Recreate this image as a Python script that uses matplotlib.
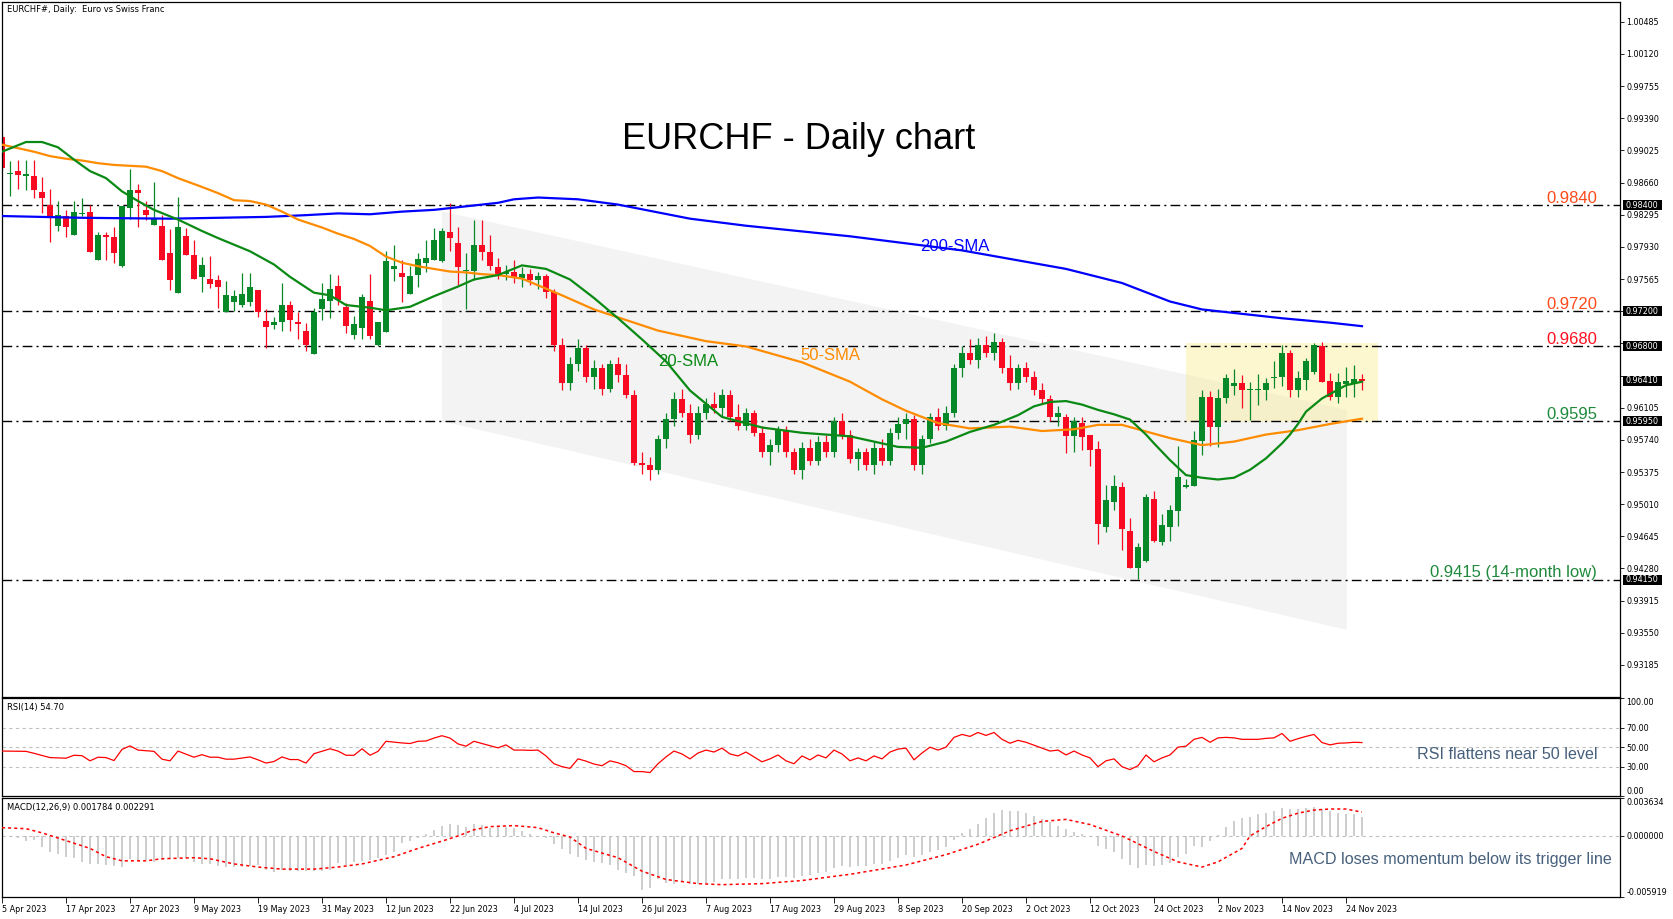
import matplotlib
matplotlib.use("Agg")
import matplotlib.pyplot as plt
from matplotlib.patches import Rectangle, Polygon

# ---------------- data ----------------
opens = [0.9918,0.9876,0.9879,0.9873,0.9873,0.9855,0.9840,0.9817,0.9828,0.9806,
         0.9830,0.9833,0.9778,0.9807,0.9804,0.9771,0.9837,0.9857,0.9835,0.9818,
         0.9817,0.9786,0.9741,0.9805,0.9784,0.9759,0.9756,0.9755,0.9719,0.9730,
         0.9727,0.9730,0.9744,0.9709,0.9704,0.9708,0.9727,0.9708,0.9698,0.9671,
         0.9722,0.9732,0.9749,0.9725,0.9693,0.9701,0.9732,0.9682,0.9696,0.9768,
         0.9763,0.9739,0.9761,0.9775,0.9778,0.9777,0.9810,0.9797,0.9766,0.9766,
         0.9795,0.9787,0.9770,0.9762,0.9765,0.9758,0.9762,0.9755,0.9760,0.9742,
         0.9682,0.9638,0.9660,0.9678,0.9645,0.9655,0.9632,0.9660,0.9648,0.9625,
         0.9548,0.9545,0.9540,0.9575,0.9598,0.9620,0.9605,0.9580,0.9605,0.9615,
         0.9610,0.9625,0.9600,0.9590,0.9605,0.9582,0.9560,0.9568,0.9585,0.9560,
         0.9540,0.9565,0.9550,0.9572,0.9560,0.9595,0.9580,0.9552,0.9560,0.9545,
         0.9565,0.9550,0.9582,0.9592,0.9598,0.9545,0.9575,0.9600,0.9590,0.9605,
         0.9655,0.9672,0.9665,0.9682,0.9672,0.9685,0.9655,0.9638,0.9655,0.9645,
         0.9630,0.9620,0.9600,0.9600,0.9578,0.9593,0.9579,0.9564,0.9475,0.9504,
         0.9520,0.9471,0.9428,0.9436,0.9507,0.9458,0.9475,0.9493,0.9521,0.9522,
         0.9573,0.9623,0.9589,0.9621,0.9635,0.9638,0.9630,0.9630,0.9630,0.9644,
         0.9645,0.9672,0.9630,0.9642,0.9651,0.9681,0.9641,0.9623,0.9637,0.9639,
         0.9643]
highs = [0.9921,0.9891,0.9892,0.9892,0.9892,0.9872,0.9859,0.9845,0.9835,0.9845,
         0.9848,0.9840,0.9810,0.9810,0.9815,0.9839,0.9881,0.9864,0.9845,0.9867,
         0.9829,0.9813,0.9850,0.9814,0.9801,0.9782,0.9783,0.9761,0.9754,0.9744,
         0.9763,0.9763,0.9744,0.9723,0.9713,0.9752,0.9732,0.9719,0.9707,0.9724,
         0.9752,0.9762,0.9761,0.9729,0.9715,0.9740,0.9762,0.9708,0.9788,0.9795,
         0.9778,0.9771,0.9786,0.9801,0.9814,0.9814,0.9843,0.9815,0.9786,0.9823,
         0.9824,0.9807,0.9780,0.9772,0.9778,0.9770,0.9768,0.9765,0.9762,0.9745,
         0.9690,0.9668,0.9688,0.9682,0.9665,0.9660,0.9665,0.9668,0.9660,0.9630,
         0.9560,0.9555,0.9580,0.9605,0.9628,0.9632,0.9615,0.9612,0.9622,0.9628,
         0.9632,0.9630,0.9615,0.9610,0.9608,0.9590,0.9575,0.9590,0.9590,0.9565,
         0.9572,0.9575,0.9578,0.9580,0.9600,0.9605,0.9585,0.9565,0.9565,0.9572,
         0.9575,0.9588,0.9600,0.9605,0.9602,0.9580,0.9605,0.9610,0.9612,0.9660,
         0.9680,0.9688,0.9690,0.9692,0.9695,0.9690,0.9670,0.9660,0.9662,0.9652,
         0.9638,0.9625,0.9612,0.9603,0.9600,0.9600,0.9580,0.9573,0.9523,0.9534,
         0.9526,0.9485,0.9457,0.9513,0.9516,0.9490,0.9500,0.9567,0.9529,0.9584,
         0.9630,0.9629,0.9632,0.9649,0.9654,0.9648,0.9640,0.9649,0.9644,0.9663,
         0.9682,0.9676,0.9652,0.9667,0.9684,0.9685,0.9650,0.9650,0.9657,0.9659,
         0.9649]
lows = [0.9880,0.9851,0.9859,0.9858,0.9849,0.9832,0.9799,0.9811,0.9804,0.9806,
        0.9828,0.9787,0.9778,0.9778,0.9775,0.9770,0.9825,0.9815,0.9824,0.9818,
        0.9778,0.9744,0.9741,0.9784,0.9756,0.9742,0.9746,0.9724,0.9719,0.9720,
        0.9725,0.9726,0.9713,0.9678,0.9700,0.9698,0.9698,0.9688,0.9675,0.9671,
        0.9710,0.9712,0.9727,0.9695,0.9688,0.9689,0.9689,0.9680,0.9696,0.9754,
        0.9730,0.9739,0.9748,0.9764,0.9778,0.9776,0.9788,0.9750,0.9723,0.9755,
        0.9778,0.9767,0.9756,0.9755,0.9752,0.9748,0.9750,0.9745,0.9735,0.9675,
        0.9630,0.9630,0.9652,0.9640,0.9632,0.9625,0.9628,0.9640,0.9622,0.9545,
        0.9535,0.9528,0.9535,0.9565,0.9590,0.9600,0.9570,0.9575,0.9598,0.9605,
        0.9600,0.9595,0.9585,0.9585,0.9578,0.9555,0.9545,0.9560,0.9555,0.9535,
        0.9530,0.9545,0.9545,0.9555,0.9555,0.9575,0.9548,0.9540,0.9540,0.9535,
        0.9545,0.9545,0.9575,0.9575,0.9540,0.9535,0.9570,0.9585,0.9585,0.9600,
        0.9645,0.9660,0.9655,0.9668,0.9665,0.9650,0.9630,0.9632,0.9640,0.9625,
        0.9615,0.9595,0.9590,0.9559,0.9560,0.9563,0.9544,0.9456,0.9469,0.9494,
        0.9449,0.9428,0.9416,0.9435,0.9458,0.9455,0.9459,0.9476,0.9519,0.9522,
        0.9557,0.9567,0.9566,0.9616,0.9625,0.9610,0.9597,0.9613,0.9619,0.9633,
        0.9635,0.9623,0.9623,0.9631,0.9649,0.9640,0.9619,0.9616,0.9623,0.9623,
        0.9630]
closes = [0.9883,0.9877,0.9875,0.9876,0.9857,0.9849,0.9827,0.9829,0.9816,0.9833,
          0.9831,0.9787,0.9806,0.9804,0.9786,0.9839,0.9858,0.9854,0.9829,0.9825,
          0.9778,0.9755,0.9815,0.9784,0.9756,0.9772,0.9751,0.9748,0.9738,0.9737,
          0.9739,0.9747,0.9719,0.9702,0.9708,0.9727,0.9710,0.9706,0.9682,0.9719,
          0.9734,0.9745,0.9733,0.9703,0.9705,0.9736,0.9692,0.9708,0.9777,0.9771,
          0.9759,0.9760,0.9779,0.9780,0.9801,0.9811,0.9803,0.9770,0.9767,0.9795,
          0.9787,0.9771,0.9762,0.9765,0.9758,0.9762,0.9755,0.9760,0.9742,0.9682,
          0.9638,0.9660,0.9678,0.9645,0.9655,0.9632,0.9660,0.9648,0.9625,0.9548,
          0.9545,0.9540,0.9575,0.9598,0.9620,0.9605,0.9580,0.9605,0.9615,0.9610,
          0.9625,0.9600,0.9590,0.9605,0.9582,0.9560,0.9568,0.9585,0.9560,0.9540,
          0.9565,0.9550,0.9572,0.9560,0.9595,0.9580,0.9552,0.9560,0.9545,0.9565,
          0.9550,0.9582,0.9592,0.9598,0.9545,0.9575,0.9600,0.9590,0.9605,0.9655,
          0.9672,0.9665,0.9682,0.9672,0.9685,0.9655,0.9638,0.9655,0.9645,0.9630,
          0.9620,0.9600,0.9605,0.9578,0.9595,0.9577,0.9563,0.9478,0.9506,0.9522,
          0.9473,0.9429,0.9452,0.9509,0.9459,0.9477,0.9494,0.9532,0.9522,0.9574,
          0.9623,0.9589,0.9621,0.9644,0.9639,0.9630,0.9631,0.9631,0.9639,0.9645,
          0.9672,0.9630,0.9644,0.9663,0.9682,0.9640,0.9623,0.9640,0.9641,0.9643,
          0.9641]

sma20_idx = [0,3,5,7,9,11,13,15,17,19,22,25,27,31,34,36,39,41,43,46,48,51,54,57,59,62,
             65,68,71,74,77,80,83,86,90,95,100,106,112,115,118,121,124,127,129,131,133,
             135,137,139,141,143,144,146,148,150,152,154,156,158,160,161,162,163,165,167,168,170]
sma20_val = [0.9901,0.9912,0.9912,0.9906,0.9892,0.9879,0.9871,0.9856,0.9845,0.9835,0.9824,0.9811,
             0.9803,0.9788,0.9773,0.9759,0.9741,0.9738,0.9727,0.9724,0.9721,0.9725,0.9737,0.9748,
             0.9756,0.9761,0.9772,0.9768,0.9756,0.9735,0.9712,0.9688,0.9663,0.9630,0.9600,0.9588,
             0.9582,0.9578,0.9566,0.9565,0.9572,0.9583,0.9591,0.9602,0.9612,0.9617,0.9618,0.9614,
             0.9608,0.9603,0.9597,0.9580,0.9570,0.9551,0.9534,0.9531,0.9529,0.9531,0.9540,0.9553,
             0.9570,0.9580,0.9592,0.9606,0.9621,0.9631,0.9636,0.9640]
sma50_idx = [0,2,4,6,8,10,12,14,16,18,20,22,25,27,29,31,33,35,37,40,42,44,46,48,50,52,54,56,58,60,62,
             65,70,74,78,82,88,93,100,106,110,113,117,121,126,130,134,137,140,142,146,148,150,154,
             158,162,166,170]
sma50_val = [0.9909,0.9905,0.9901,0.9896,0.9893,0.9891,0.9888,0.9886,0.9885,0.9884,0.9879,0.9871,
             0.9861,0.9854,0.9846,0.9845,0.9841,0.9833,0.9824,0.9815,0.9808,0.9802,0.9794,0.9782,
             0.9775,0.9771,0.9768,0.9765,0.9764,0.9762,0.9761,0.9757,0.9738,0.9722,0.9710,0.9698,
             0.9686,0.9680,0.9662,0.9640,0.9620,0.9607,0.9593,0.9587,0.9589,0.9584,0.9586,0.9591,
             0.9591,0.9586,0.9576,0.9572,0.9568,0.9572,0.9580,0.9585,0.9592,0.9598]
sma200_idx = [0,10,21,33,38,42,46,50,54,58,62,64,67,72,77,86,93,106,120,133,140,146,150,153,160,166,170]
sma200_val = [0.9828,0.9826,0.9825,0.9827,0.9829,0.9831,0.9830,0.9833,0.9835,0.9839,0.9843,0.9847,
              0.9849,0.9847,0.9841,0.9825,0.9817,0.9805,0.9789,0.9768,0.9752,0.9731,0.9722,0.9719,
              0.9712,0.9707,0.9703]

rsi_idx = [0,3,4,6,8,9,10,11,12,13,14,15,16,17,19,20,21,22,24,25,26,27,28,29,31,32,33,34,35,36,37,38,
           39,41,42,43,44,45,46,47,48,50,51,52,53,54,55,56,57,58,59,60,62,63,64,65,66,67,68,69,70,71,
           72,73,74,75,76,77,78,79,80,81,82,83,84,85,86,87,88,89,90,91,92,93,94,95,96,97,98,99,100,
           101,102,103,104,105,106,107,108,109,110,111,112,113,114,115,116,117,118,119,120,121,122,
           123,124,125,126,127,128,129,130,131,132,133,134,135,136,137,138,139,140,141,142,143,144,
           145,146,147,148,149,150,151,152,153,154,155,156,157,158,159,160,161,162,163,164,165,166,
           167,168,169,170]
rsi_val = [46,45.7,43.7,39.3,38.7,41.7,41.3,36,39.7,39.3,36.3,47.7,51.3,47,45.7,37.7,36,46,39.7,42.3,
           39.7,39.7,37.7,37.7,40,37,33.7,35.3,40,37.3,37.3,33.7,43.3,48.3,46,41.7,41.7,48.3,41.7,45.7,
           56,54.3,53.7,56,56.3,59.3,61.7,59.3,53.3,51,56,53.7,49.3,52.3,47,47,46.7,47,41,33,30,28.3,
           38,35.7,32.7,31,36,34,31,25,25,24,33,40,46,43,38,44,47,45,49,43,41,45,40,35,38,42,36,33,41,
           37,42,39,47,43,36,39,36,41,38,45,48,49,37,44,50,47,50,60,63,61,65,62,65,58,54,57,55,52,49,
           46,47,42,46,42,39,30,36,38,30,27,31,42,35,39,42,50,51,58,60,55,59.5,60,59.5,58,58,58,59,
           59.5,64,56,58.7,61,63,54.7,52.3,54,54.3,55,54.7]

macd_hist = [0.0001,-0.0001,-0.0002,-0.0005,-0.0004,-0.0011,-0.0015,-0.0017,-0.0020,-0.0021,
             -0.0025,-0.0027,-0.0027,-0.0028,-0.0029,-0.0030,-0.0022,-0.0023,-0.0023,-0.0025,
             -0.0023,-0.0022,-0.0021,-0.0021,-0.0025,-0.0027,-0.0027,-0.0029,-0.0030,-0.0030,
             -0.0030,-0.0029,-0.0028,-0.0033,-0.0035,-0.0033,-0.0034,-0.0034,-0.0034,-0.0034,
             -0.0034,-0.0033,-0.0026,-0.0028,-0.0025,-0.0024,-0.0023,-0.0021,-0.0018,-0.0015,
             -0.0007,-0.0005,-0.0002,0.0002,0.0006,0.0010,0.0012,0.0011,0.0009,0.0012,
             0.0011,0.0008,0.0010,0.0009,0.0008,0.0005,0.0002,0.0000,-0.0002,-0.0008,
             -0.0013,-0.0017,-0.0020,-0.0023,-0.0025,-0.0026,-0.0028,-0.0033,-0.0036,-0.0039,
             -0.0052,-0.0050,-0.0042,-0.0045,-0.0046,-0.0044,-0.0046,-0.0046,-0.0045,-0.0044,
             -0.0042,-0.0042,-0.0042,-0.0041,-0.0041,-0.0042,-0.0042,-0.0040,-0.0040,-0.0041,
             -0.0039,-0.0038,-0.0036,-0.0035,-0.0031,-0.0029,-0.0030,-0.0029,-0.0029,-0.0027,
             -0.0027,-0.0024,-0.0021,-0.0018,-0.0020,-0.0018,-0.0015,-0.0014,-0.0011,-0.0004,
             0.0003,0.0007,0.0012,0.0017,0.0022,0.0025,0.0024,0.0024,0.0022,0.0019,
             0.0016,0.0013,0.0010,0.0007,0.0004,0.0002,-0.0001,-0.0010,-0.0013,-0.0015,
             -0.0022,-0.0028,-0.0031,-0.0028,-0.0029,-0.0028,-0.0026,-0.0020,-0.0017,-0.0010,
             -0.0011,-0.0005,0.0001,0.0009,0.0014,0.0017,0.0018,0.0021,0.0022,0.0024,
             0.0027,0.0026,0.0026,0.0027,0.0028,0.0026,0.0024,0.0022,0.0021,0.0021,
             0.0018]
signal_idx = [0,3,5,7,11,13,15,18,20,24,26,29,32,35,39,42,45,49,52,55,57,59,61,64,67,69,71,73,77,80,
              83,87,90,95,100,106,113,118,122,126,130,133,136,140,144,147,150,152,155,156,158,160,
              162,164,166,168,170]
signal_val = [0.0008,0.0007,0.0003,-0.0002,-0.0012,-0.0020,-0.0024,-0.0024,-0.0022,-0.0021,-0.0022,
              -0.0027,-0.0030,-0.0032,-0.0032,-0.0030,-0.0027,-0.0020,-0.0012,-0.0005,0.0000,0.0006,
              0.0009,0.0010,0.0008,0.0003,-0.0001,-0.0012,-0.0021,-0.0034,-0.0042,-0.0046,-0.0047,
              -0.0046,-0.0043,-0.0037,-0.0028,-0.0018,-0.0008,0.0005,0.0014,0.0016,0.0011,0.0000,
              -0.0015,-0.0025,-0.0030,-0.0025,-0.0012,0.0000,0.0009,0.0017,0.0022,0.0025,0.0026,
              0.0026,0.0023]

levels = [0.9840, 0.9720, 0.9680, 0.9595, 0.9415]
level_labels = ["0.9840", "0.9720", "0.9680", "0.9595", "0.9415 (14-month low)"]
level_colors = ["#ff4a1c", "#ff4a1c", "#ff1020", "#1f8a3c", "#1f8a3c"]
price_boxes = [0.98400, 0.97200, 0.96800, 0.96410, 0.95950, 0.94150]
price_ticks = [1.00485, 1.00120, 0.99755, 0.99390, 0.99025, 0.98660, 0.98295, 0.97930, 0.97565,
               0.97200, 0.96835, 0.96470, 0.96105, 0.95740, 0.95375, 0.95010, 0.94645, 0.94280,
               0.93915, 0.93550, 0.93185]
price_tick_labels = ["1.00485", "1.00120", "0.99755", "0.99390", "0.99025", "0.98660", "0.98295",
                     "0.97930", "0.97565", "", "", "", "0.96105", "0.95740", "0.95375", "0.95010",
                     "0.94645", "0.94280", "0.93915", "0.93550", "0.93185"]
date_idx = [0, 8, 16, 24, 32, 40, 48, 56, 64, 72, 80, 88, 96, 104, 112, 120, 128, 136, 144, 152, 160, 168]
date_labels = ["5 Apr 2023", "17 Apr 2023", "27 Apr 2023", "9 May 2023", "19 May 2023", "31 May 2023",
               "12 Jun 2023", "22 Jun 2023", "4 Jul 2023", "14 Jul 2023", "26 Jul 2023", "7 Aug 2023",
               "17 Aug 2023", "29 Aug 2023", "8 Sep 2023", "20 Sep 2023", "2 Oct 2023", "12 Oct 2023",
               "24 Oct 2023", "2 Nov 2023", "14 Nov 2023", "24 Nov 2023"]
channel_x = [55.0, 168.1]
channel_top = [0.98332, 0.96081]
channel_bottom = [0.95951, 0.93584]
range_box_x = [148.0, 172.0]
range_box_y = [0.95937, 0.96838]

# ---------------- layout ----------------
W, H = 1673, 919
fig = plt.figure(figsize=(W / 100, H / 100), dpi=100)
fig.patch.set_facecolor("white")


def fr(x0, y0, x1, y1):
    return [x0 / W, 1 - y1 / H, (x1 - x0) / W, (y1 - y0) / H]


ax = fig.add_axes(fr(2, 2, 1620, 696.7))
axr = fig.add_axes(fr(2, 698.3, 1620, 796))
axm = fig.add_axes(fr(2, 798.3, 1620, 897.3))

XMAX = 202.25
AXFONT = "DejaVu Sans"
LBL = "Liberation Sans"
for a in (ax, axr, axm):
    a.set_xlim(0, XMAX)
    for s in a.spines.values():
        s.set_color("black")
        s.set_linewidth(0.9)
    a.yaxis.tick_right()
    a.tick_params(axis="y", direction="out", length=3, width=0.6, labelsize=5.8, pad=1.5)
    a.set_facecolor("white")

ax.set_ylim(0.92825, 1.00709)
ax.set_xticks([])
axr.set_xticks([])

# channel and range box
ax.add_patch(Polygon([(channel_x[0], channel_top[0]), (channel_x[1], channel_top[1]),
                      (channel_x[1], channel_bottom[1]), (channel_x[0], channel_bottom[0])],
                     closed=True, facecolor="#f3f3f3", edgecolor="none", zorder=0.5))
ax.add_patch(Rectangle((range_box_x[0], range_box_y[0]), range_box_x[1] - range_box_x[0],
                       range_box_y[1] - range_box_y[0], facecolor=(0.98, 0.93, 0.54), alpha=0.4,
                       edgecolor="none", zorder=0.6))

# horizontal levels
for lv in levels:
    ax.axhline(lv, color="black", lw=1.0, ls=(0, (7, 3, 1.5, 3)), zorder=1)

# candles
for i in range(len(opens)):
    o, h, l, c = opens[i], highs[i], lows[i], closes[i]
    col = "#07892a" if c >= o else "#f80b22"
    ax.vlines(i, l, h, color=col, lw=0.9, zorder=2)
    bottom = min(o, c)
    height = max(abs(c - o), 0.00012)
    ax.bar(i, height, bottom=bottom, width=0.68, color=col, edgecolor="none", zorder=2.1)

# moving averages
ax.plot(sma200_idx, sma200_val, color="#0000ff", lw=1.6, zorder=3)
ax.plot(sma50_idx, sma50_val, color="#ff8c00", lw=1.6, zorder=3)
ax.plot(sma20_idx, sma20_val, color="#0a8a14", lw=1.6, zorder=3.1)

ax.set_yticks(price_ticks)
ax.set_yticklabels(price_tick_labels, fontfamily=AXFONT)

# texts in main panel
ax.text(797 / 1618 * XMAX, 0.984 + (205.2 - 139) / 8803, "EURCHF - Daily chart",
        fontsize=26, family=LBL, ha="center", va="center", color="black")
ax.text((955 - 2) / 8, 0.984 - (246.5 - 205.2) / 8803, "200-SMA", fontsize=12, family=LBL,
        color="#0000ff", ha="center", va="center", zorder=5)
ax.text((830 - 2) / 8, 0.984 - (355.4 - 205.2) / 8803, "50-SMA", fontsize=12, family=LBL,
        color="#ff8c00", ha="center", va="center", zorder=5)
ax.text((688 - 2) / 8, 0.984 - (360.7 - 205.2) / 8803, "20-SMA", fontsize=12, family=LBL,
        color="#0a8a14", ha="center", va="center", zorder=5)
for lv, lab, col in zip(levels, level_labels, level_colors):
    ax.text((1597 - 2) / 8, lv + 2.5 / 8803, lab, fontsize=12, family=LBL, color=col,
            ha="right", va="baseline", zorder=5)

fig.text(7 / W, 1 - 9 / H, "EURCHF#, Daily:  Euro vs Swiss Franc", fontsize=6, family=AXFONT,
         ha="left", va="center")

# price boxes on the right axis
fig.canvas.draw()
inv = fig.transFigure.inverted()
for pb in price_boxes:
    yy = inv.transform(ax.transData.transform((0, pb)))[1]
    fig.add_artist(Rectangle((1622.5 / W, yy - 5 / H), 39.5 / W, 10 / H, facecolor="black",
                             edgecolor="none", transform=fig.transFigure, zorder=5))
    fig.text(1625 / W, yy, "%.5f" % pb, color="white", fontsize=5.8, family=AXFONT,
             ha="left", va="center", zorder=6)

# RSI panel
axr.set_ylim(0, 100)
for lv in (70, 50, 30):
    axr.axhline(lv, color="#c0c0c0", lw=0.8, ls=(0, (3, 3)), zorder=1)
axr.plot(rsi_idx, rsi_val, color="#ff0000", lw=0.9, zorder=3)
axr.set_yticks([100, 70, 50, 30, 0])
axr.set_yticklabels(["100.00", "70.00", "50.00", "30.00", "0.00"], fontfamily=AXFONT)
tl = axr.get_yticklabels()
tl[0].set_va("top")
tl[-1].set_va("bottom")
axr.text(5 / 8, 91, "RSI(14) 54.70", fontsize=6, family=AXFONT, ha="left", va="center")
axr.text((1598 - 2) / 8, 42.2, "RSI flattens near 50 level", fontsize=11.6, family=LBL,
         color="#46607c", ha="right", va="center")

# MACD panel
axm.set_ylim(-0.005919, 0.003634)
axm.axhline(0, color="#c0c0c0", lw=0.8, ls=(0, (3, 3)), zorder=1)
axm.vlines(range(len(macd_hist)), 0, macd_hist, color="#c0c0c0", lw=1.1, zorder=2)
axm.plot(signal_idx, signal_val, color="#ff0000", lw=1.1, ls=(0, (2, 2)), zorder=3)
axm.set_yticks([0.003634, 0.0, -0.005919])
axm.set_yticklabels(["0.003634", "0.000000", "-0.005919"], fontfamily=AXFONT)
tl = axm.get_yticklabels()
tl[0].set_va("top")
tl[-1].set_va("bottom")
axm.text(5 / 8, 0.003634 - 9 / 10300, "MACD(12,26,9) 0.001784 0.002291", fontsize=6,
         family=AXFONT, ha="left", va="center")
axm.text((1612 - 2) / 8, -0.0023, "MACD loses momentum below its trigger line", fontsize=11.6,
         family=LBL, color="#46607c", ha="right", va="center")
axm.set_xticks(date_idx)
axm.set_xticklabels(date_labels, fontfamily=AXFONT, fontsize=5.8)
for t in axm.get_xticklabels():
    t.set_ha("left")
axm.tick_params(axis="x", direction="out", length=4, width=0.6, pad=1.5)

fig.savefig("out.png", dpi=100, facecolor="white")
